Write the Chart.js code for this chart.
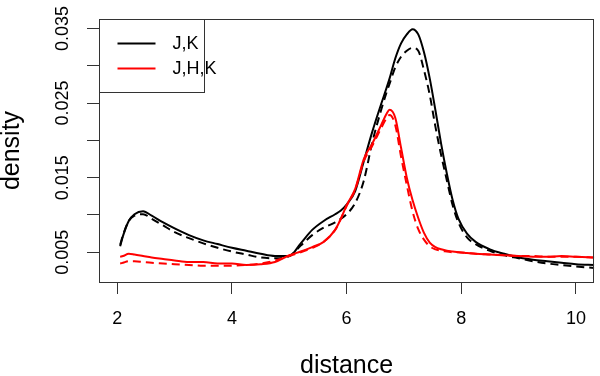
<!DOCTYPE html>
<html>
<head>
<meta charset="utf-8">
<script src="https://cdn.jsdelivr.net/npm/chart.js@4"></script>
<style>
  body { margin: 0; background: #fff; }
  #wrap { width: 600px; height: 376px; }
</style>
</head>
<body>
<div id="wrap"><canvas id="myChart" width="600" height="376"></canvas></div>
<script>
// distance grid (shared by all four curves)
const distance = [2.05, 2.1, 2.2, 2.3, 2.45, 2.6, 2.8, 3.0, 3.25, 3.5, 3.75, 4.0, 4.25, 4.5, 4.75,
  5.0, 5.2, 5.4, 5.6, 5.8, 5.9, 6.0, 6.15, 6.3, 6.45, 6.6, 6.7, 6.75, 6.85, 6.95, 7.05, 7.15,
  7.25, 7.35, 7.45, 7.55, 7.65, 7.75, 7.85, 7.95, 8.1, 8.25, 8.5, 8.75, 9.0, 9.25, 9.5, 9.75, 10.0, 10.32];

const jkSolid = [0.0058, 0.0072, 0.0092, 0.0101, 0.0105, 0.0099, 0.0090, 0.0082, 0.0073, 0.0066, 0.0061,
  0.0056, 0.0052, 0.0048, 0.0045, 0.0045, 0.0062, 0.0080, 0.0092, 0.0101, 0.0106, 0.0114, 0.0132,
  0.0172, 0.0212, 0.0248, 0.0271, 0.0283, 0.0310, 0.0330, 0.0342, 0.0349, 0.0342, 0.0318, 0.0283,
  0.0240, 0.0195, 0.0155, 0.0120, 0.0095, 0.0075, 0.0064, 0.0054, 0.0048, 0.0043, 0.0040, 0.0038,
  0.0036, 0.0034, 0.0033];

const jkDashed = [0.0060, 0.0073, 0.0092, 0.0099, 0.0101, 0.0095, 0.0086, 0.0077, 0.0069, 0.0062, 0.0056,
  0.0051, 0.0047, 0.0043, 0.0042, 0.0045, 0.0059, 0.0073, 0.0083, 0.0090, 0.0095, 0.0101, 0.0116,
  0.0146, 0.0198, 0.0240, 0.0265, 0.0276, 0.0298, 0.0312, 0.0320, 0.0324, 0.0320, 0.0294, 0.0261,
  0.0218, 0.0180, 0.0146, 0.0113, 0.0090, 0.0070, 0.0061, 0.0052, 0.0046, 0.0042, 0.0038, 0.0035,
  0.0033, 0.0031, 0.0029];

const jhkSolid = [0.0044, 0.0045, 0.0048, 0.0047, 0.0045, 0.0043, 0.0041, 0.0039, 0.0037, 0.0037, 0.0035,
  0.0035, 0.0033, 0.0034, 0.0037, 0.0046, 0.0051, 0.0057, 0.0064, 0.0080, 0.0095, 0.0113, 0.0135,
  0.0175, 0.0196, 0.0220, 0.0236, 0.0241, 0.0230, 0.0190, 0.0150, 0.0120, 0.0096, 0.0076, 0.0063,
  0.0057, 0.0054, 0.0052, 0.0051, 0.0050, 0.0049, 0.0048, 0.0047, 0.0046, 0.0045, 0.0044, 0.0044,
  0.0045, 0.0044, 0.0043];

const jhkDashed = [0.0035, 0.0036, 0.0038, 0.0038, 0.0037, 0.0036, 0.0035, 0.0034, 0.0033, 0.0032, 0.0032,
  0.0032, 0.0033, 0.0035, 0.0039, 0.0045, 0.0050, 0.0056, 0.0064, 0.0080, 0.0095, 0.0112, 0.0134,
  0.0172, 0.0193, 0.0216, 0.0230, 0.0234, 0.0220, 0.0178, 0.0140, 0.0105, 0.0081, 0.0067, 0.0058,
  0.0054, 0.0052, 0.0051, 0.0050, 0.0050, 0.0049, 0.0048, 0.0047, 0.0046, 0.0045, 0.0045, 0.0044,
  0.0044, 0.0044, 0.0043];

const yTickLabels = [0.005, 0.015, 0.025, 0.035];
const legendNames = ['J,K', 'J,H,K'];
const legendColors = ['#000000', '#ff0000'];

const FONT = "'Liberation Sans', Arial, sans-serif";
const boxColor = '#333';

function pts(ys) {
  return distance.map((d, i) => ({ x: d, y: ys[i] }));
}

// R style box, rotated y labels and legend
const rBox = {
  id: 'rBox',
  afterDraw(chart) {
    const { ctx, chartArea: a, scales } = chart;
    ctx.save();
    ctx.strokeStyle = boxColor;
    ctx.lineWidth = 1;
    ctx.strokeRect(Math.round(a.left) + 0.5, Math.round(a.top) + 0.5,
      Math.round(a.right - a.left) - 1, Math.round(a.bottom - a.top));

    ctx.fillStyle = '#000';
    ctx.font = '18px ' + FONT;
    ctx.textAlign = 'center';
    ctx.textBaseline = 'middle';
    yTickLabels.forEach(v => {
      const y = scales.y.getPixelForValue(v);
      ctx.save();
      ctx.translate(63, y);
      ctx.rotate(-Math.PI / 2);
      ctx.fillText(v.toFixed(3), 0, 0);
      ctx.restore();
    });

    // legend
    const lx = Math.round(a.left) + 0.5, ly = Math.round(a.top) + 0.5;
    ctx.strokeStyle = boxColor;
    ctx.strokeRect(lx, ly, 105, 73);
    ctx.textAlign = 'left';
    legendNames.forEach((name, i) => {
      const yy = ly + 24 + i * 25;
      ctx.strokeStyle = legendColors[i];
      ctx.lineWidth = 2;
      ctx.beginPath();
      ctx.moveTo(lx + 18, yy);
      ctx.lineTo(lx + 56, yy);
      ctx.stroke();
      ctx.fillStyle = '#000';
      ctx.fillText(name, lx + 73, yy + 1);
    });
    ctx.restore();
  }
};

const ctx = document.getElementById('myChart');

new Chart(ctx, {
  type: 'line',
  data: {
    datasets: [
      { label: 'J,H,K', data: pts(jhkDashed), borderColor: '#ff0000', borderDash: [8, 5], order: 0 },
      { label: 'J,H,K', data: pts(jhkSolid), borderColor: '#ff0000', order: 1 },
      { label: 'J,K', data: pts(jkDashed), borderColor: '#000000', borderDash: [8, 5], order: 2 },
      { label: 'J,K', data: pts(jkSolid), borderColor: '#000000', order: 3 }
    ]
  },
  options: {
    responsive: false,
    animation: false,
    datasets: {
      line: { borderWidth: 2, pointRadius: 0, tension: 0, cubicInterpolationMode: 'monotone' }
    },
    layout: { padding: { top: 19, right: 2, left: 0, bottom: 0 } },
    plugins: { legend: { display: false }, tooltip: { enabled: false } },
    scales: {
      x: {
        type: 'linear',
        min: 1.681,
        max: 10.319,
        afterFit: s => { s.height = 94; },
        border: { display: false },
        grid: { drawOnChartArea: false, drawTicks: true, tickLength: 12, color: boxColor },
        ticks: { stepSize: 2, includeBounds: false, padding: 14, color: '#000', font: { family: FONT, size: 18 } },
        title: { display: true, text: 'distance', color: '#000', font: { family: FONT, size: 25, lineHeight: 1 }, padding: { top: 0, bottom: -3 } }
      },
      y: {
        type: 'linear',
        min: 0.00102,
        max: 0.03626,
        afterFit: s => { s.width = 99; },
        border: { display: false },
        grid: { drawOnChartArea: false, drawTicks: true, tickLength: 12, color: boxColor },
        ticks: { stepSize: 0.005, includeBounds: false, callback: () => '', font: { family: FONT, size: 18 } },
        title: { display: true, text: 'density', color: '#000', font: { family: FONT, size: 25, lineHeight: 1 }, padding: { top: 0, bottom: 0 } }
      }
    }
  },
  plugins: [rBox]
});
</script>
</body>
</html>
